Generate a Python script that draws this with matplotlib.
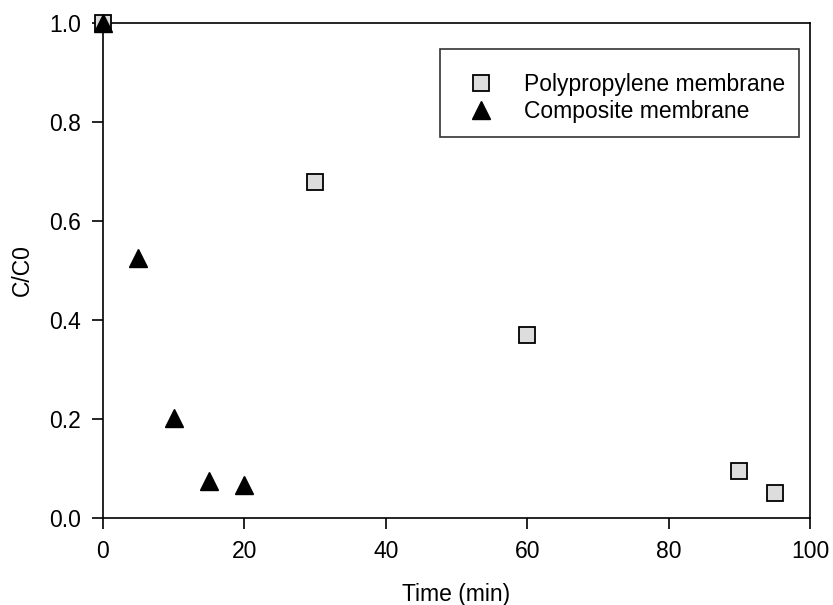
import matplotlib.pyplot as plt

plt.rcParams['font.family'] = ['Liberation Sans', 'DejaVu Sans']

# Polypropylene membrane
pp_time = [0, 30, 60, 90, 95]
pp_c = [1.0, 0.678, 0.37, 0.094, 0.051]

# Composite membrane
comp_time = [0, 5, 10, 15, 20]
comp_c = [1.0, 0.525, 0.202, 0.074, 0.067]

fig = plt.figure(figsize=(8.33, 6.05), dpi=100)
ax = fig.add_axes([0.1236, 0.1438, 0.8488, 0.8182])

ax.plot(pp_time, pp_c, 's', ms=11, mfc='#dddddd', mec='black', mew=1.3,
        label='Polypropylene membrane', clip_on=False, zorder=3)
ax.plot(comp_time, comp_c, '^', ms=13, mfc='black', mec='black',
        label='Composite membrane', clip_on=False, zorder=4)

ax.set_xlim(0, 100)
ax.set_ylim(0, 1.0)
ax.set_xticks([0, 20, 40, 60, 80, 100])
ax.set_yticks([0.0, 0.2, 0.4, 0.6, 0.8, 1.0])
ax.set_yticklabels(['0.0', '0.2', '0.4', '0.6', '0.8', '1.0'])
ax.tick_params(direction='out', length=8, width=1.2, labelsize=16.5, pad=8)
for s in ax.spines.values():
    s.set_linewidth(1.2)

ax.set_xlabel('Time (min)', fontsize=16.5, labelpad=14)
ax.set_ylabel('C/C0', fontsize=16.5, labelpad=11)

leg = ax.legend(loc='upper right', bbox_to_anchor=(0.984, 0.947), fontsize=16.5,
                frameon=True, fancybox=False, edgecolor='black', borderpad=0.6,
                handlelength=2.35, handletextpad=0.7, labelspacing=0.2,
                borderaxespad=0, title=' ', title_fontsize=4)
leg.get_frame().set_linewidth(1.2)

fig.savefig('out.png', dpi=100)
